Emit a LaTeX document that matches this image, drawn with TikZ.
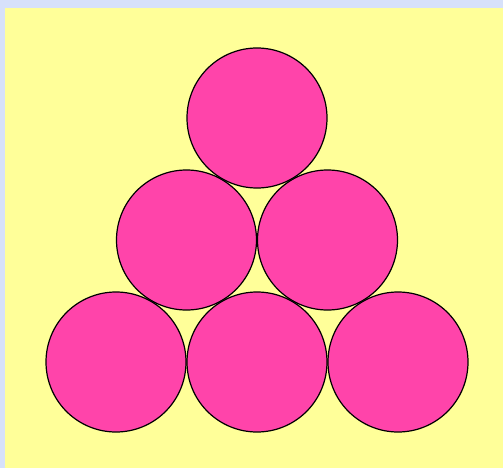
\documentclass[tikz,border=0pt]{standalone}
\definecolor{bgblue}{RGB}{215,225,250}
\definecolor{paper}{RGB}{255,255,153}
\definecolor{ballpink}{RGB}{255,68,170}
\begin{document}
\begin{tikzpicture}[x=1pt,y=-1pt,
  ball/.style={circle,draw=black,fill=ballpink,line width=1.2pt,minimum size=140pt,inner sep=0pt}]
\useasboundingbox (0,0) rectangle (503,468);
\fill[bgblue] (0,0) rectangle (503,468);
\fill[paper] (5,8) rectangle (503,468);
\node[ball] (t) at (257,118) {};
\node[ball] (ml) at (186.5,240) {};
\node[ball] (mr) at (327.5,240) {};
\node[ball] (bl) at (116,362) {};
\node[ball] (bm) at (257,362) {};
\node[ball] (br) at (398,362) {};
\end{tikzpicture}
\end{document}
